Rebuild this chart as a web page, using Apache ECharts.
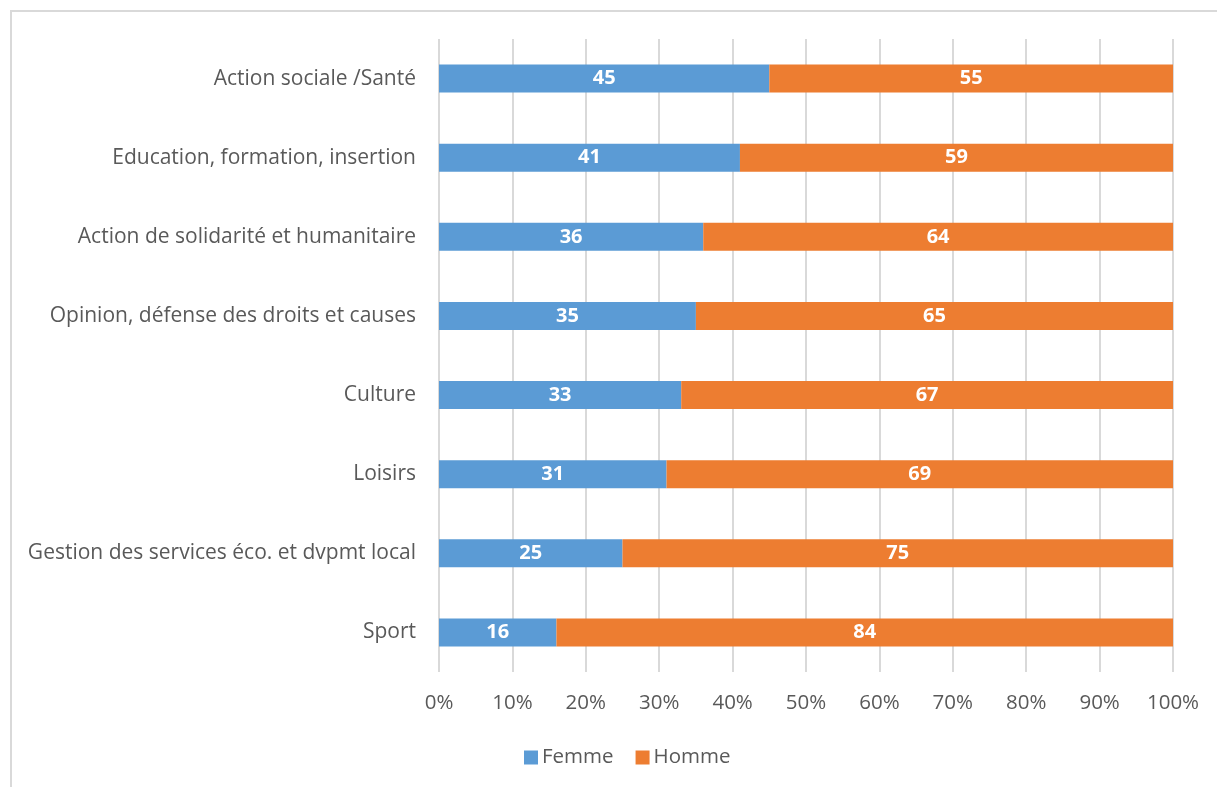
<!DOCTYPE html>
<html><head><meta charset="utf-8">
<script src="https://cdn.jsdelivr.net/npm/echarts@6/dist/echarts.min.js"></script>
<style>
html,body{margin:0;padding:0;background:#fff;}
#frame{position:absolute;left:10px;top:10px;width:1300px;height:900px;border:2px solid #d9d9d9;box-sizing:border-box;}
#c{position:absolute;left:0;top:0;width:1217px;height:787px;}
</style></head>
<body>
<div id="frame"></div>
<div id="c"></div>
<script>
const categories = ["Action sociale /Santé","Education, formation, insertion","Action de solidarité et humanitaire","Opinion, défense des droits et causes","Culture","Loisirs","Gestion des services éco. et dvpmt local","Sport"];
const femme = [45,41,36,35,33,31,25,16];
const homme = [55,59,64,65,67,69,75,84];
const seriesNames = ["Femme","Homme"];

const font = "'Open Sans', 'Noto Sans', sans-serif";
const chart = echarts.init(document.getElementById('c'));
const lbl = {show:true, position:'inside', color:'#fff', fontWeight:'bold', fontSize:20, fontFamily:font};
chart.setOption({
  animation:false,
  grid:{left:439, right:44, top:39, bottom:115, containLabel:false},
  legend:{top:742, left:519, itemWidth:14, itemHeight:14, itemGap:22, icon:'rect',
    textStyle:{color:'#595959', fontSize:20.5, fontFamily:font, padding:[0,0,0,-1]}, data:seriesNames},
  xAxis:{type:'value', min:0, max:100, interval:10,
    axisLine:{show:false}, axisTick:{show:false},
    splitLine:{show:true, lineStyle:{color:'#d9d9d9', width:2}},
    axisLabel:{formatter:'{value}%', color:'#595959', fontSize:20.5, fontFamily:font, margin:21}},
  yAxis:{type:'category', data:categories, inverse:true,
    axisLine:{show:false}, axisTick:{show:false},
    axisLabel:{color:'#595959', fontSize:21, fontFamily:font, margin:23}},
  series:[
    {name:seriesNames[0], type:'bar', stack:'t', data:femme, barWidth:28, itemStyle:{color:'#5b9bd5'}, label:lbl},
    {name:seriesNames[1], type:'bar', stack:'t', data:homme, barWidth:28, itemStyle:{color:'#ed7d31'}, label:lbl}
  ]
});
</script>
</body></html>
